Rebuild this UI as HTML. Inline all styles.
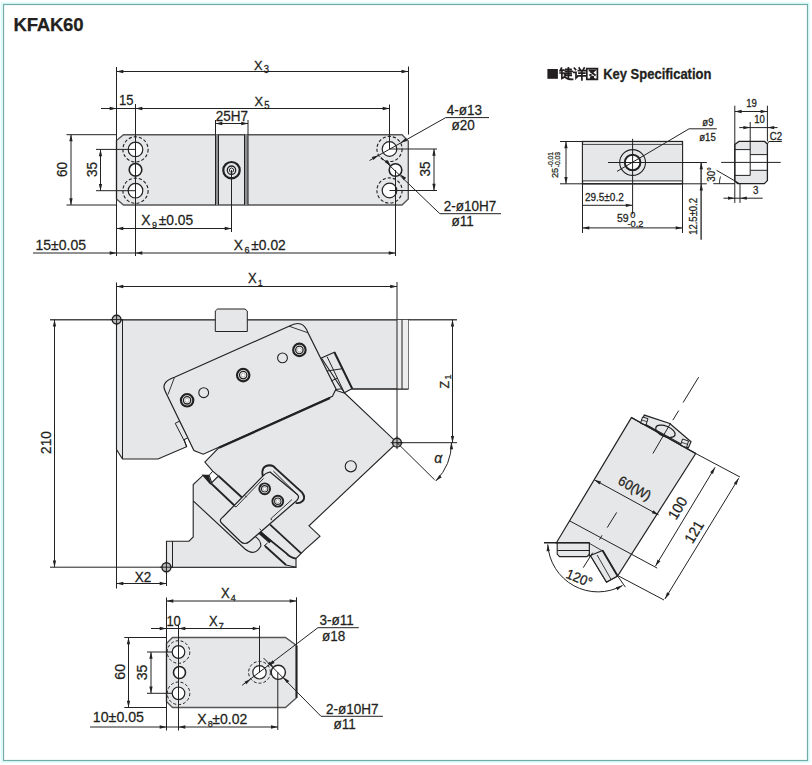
<!DOCTYPE html>
<html><head><meta charset="utf-8"><style>
html,body{margin:0;padding:0;background:#fff;}
svg{display:block;font-family:"Liberation Sans",sans-serif;}
</style></head><body>
<svg width="812" height="765" viewBox="0 0 812 765">
<rect width="812" height="765" fill="#fff"/>
<rect x="1.5" y="3" width="807.5" height="759" fill="none" stroke="#d8fbfb" stroke-width="1.5"/>
<rect x="3.5" y="4.5" width="804" height="756" fill="none" stroke="#72aaa6" stroke-width="1.2"/>
<text x="0" y="0" font-size="18.6" text-anchor="start" font-weight="bold" fill="#231f20" stroke="#231f20" stroke-width="0.25" transform="translate(13.5 30.8) scale(1 1.0)" letter-spacing="-0.25">KFAK60</text>
<polygon points="123.5,134.7 402,134.7 408.3,141 408.3,199 402,205 123.5,205 116.5,199 116.5,140.5" fill="#e6e7e9" stroke="#555555" stroke-width="1.4" stroke-linejoin="miter" />
<rect x="215.5" y="134.5" width="3.2" height="70.5" fill="#8e8f91"/>
<rect x="244.5" y="134.5" width="3.6" height="70.5" fill="#8e8f91"/>
<line x1="215.5" y1="134.5" x2="215.5" y2="205" stroke="#222222" stroke-width="1" />
<line x1="218.5" y1="134.5" x2="218.5" y2="205" stroke="#222222" stroke-width="1" />
<line x1="244.5" y1="134.5" x2="244.5" y2="205" stroke="#222222" stroke-width="1" />
<line x1="248" y1="134.5" x2="248" y2="205" stroke="#222222" stroke-width="1" />
<circle cx="231.5" cy="170.2" r="8.2" fill="#e6e7e9" stroke="#222222" stroke-width="2.2" />
<circle cx="231.5" cy="170.2" r="4.2" fill="none" stroke="#222222" stroke-width="1.3" />
<polygon points="231.5,167.9 233.49,169.05 233.49,171.35 231.5,172.5 229.51,171.35 229.51,169.05" fill="none" stroke="#222222" stroke-width="0.9" stroke-linejoin="miter" />
<circle cx="135.5" cy="149.4" r="7.3" fill="#fff" stroke="#222222" stroke-width="1.2" />
<circle cx="135.5" cy="149.4" r="12.6" fill="none" stroke="#222222" stroke-width="1.1" stroke-dasharray="3.2,2"/>
<circle cx="135.5" cy="190.7" r="7.3" fill="#fff" stroke="#222222" stroke-width="1.2" />
<circle cx="135.5" cy="190.7" r="12.6" fill="none" stroke="#222222" stroke-width="1.1" stroke-dasharray="3.2,2"/>
<circle cx="135.5" cy="169.8" r="6.3" fill="#fff" stroke="#222222" stroke-width="1.6" />
<circle cx="389.5" cy="149" r="7.3" fill="#fff" stroke="#222222" stroke-width="1.2" />
<circle cx="389.5" cy="149" r="12.6" fill="none" stroke="#222222" stroke-width="1.1" stroke-dasharray="3.2,2"/>
<circle cx="389.5" cy="190.5" r="7.3" fill="#fff" stroke="#222222" stroke-width="1.2" />
<circle cx="389.5" cy="190.5" r="12.6" fill="none" stroke="#222222" stroke-width="1.1" stroke-dasharray="3.2,2"/>
<circle cx="395.5" cy="170" r="6.3" fill="#fff" stroke="#222222" stroke-width="1.6" />
<line x1="116.5" y1="67" x2="116.5" y2="256" stroke="#222222" stroke-width="1" />
<line x1="135.5" y1="104" x2="135.5" y2="256" stroke="#222222" stroke-width="1" />
<line x1="408.5" y1="66.5" x2="408.5" y2="134.5" stroke="#222222" stroke-width="1" />
<line x1="389.5" y1="104.5" x2="389.5" y2="149" stroke="#222222" stroke-width="1" />
<line x1="231.5" y1="170" x2="231.5" y2="232" stroke="#222222" stroke-width="1" />
<line x1="395.5" y1="170" x2="395.5" y2="256" stroke="#222222" stroke-width="1" />
<line x1="215.5" y1="120" x2="215.5" y2="134.5" stroke="#222222" stroke-width="1" />
<line x1="248" y1="120" x2="248" y2="134.5" stroke="#222222" stroke-width="1" />
<line x1="66.5" y1="134.7" x2="116.5" y2="134.7" stroke="#222222" stroke-width="1" />
<line x1="66.5" y1="205" x2="116.5" y2="205" stroke="#222222" stroke-width="1" />
<line x1="96" y1="149.4" x2="135.5" y2="149.4" stroke="#222222" stroke-width="1" />
<line x1="96" y1="190.7" x2="135.5" y2="190.7" stroke="#222222" stroke-width="1" />
<line x1="389.5" y1="149" x2="437" y2="149" stroke="#222222" stroke-width="1" />
<line x1="389.5" y1="190.5" x2="437" y2="190.5" stroke="#222222" stroke-width="1" />
<line x1="116.5" y1="71.5" x2="408.3" y2="71.5" stroke="#222222" stroke-width="1" />
<polygon points="116.5,71.5 123.3,69.85 123.3,73.15" fill="#222222"/>
<polygon points="408.3,71.5 401.5,73.15 401.5,69.85" fill="#222222"/>
<text x="0" y="0" font-size="12.8" text-anchor="start" font-weight="normal" fill="#231f20" stroke="#231f20" stroke-width="0.25" transform="translate(254 69.6) scale(1 1.06)" >X<tspan font-size="9.5" dx="1.2" dy="3">3</tspan></text>
<line x1="101" y1="108.5" x2="389.5" y2="108.5" stroke="#222222" stroke-width="1" />
<polygon points="116.5,108.5 109.7,110.15 109.7,106.85" fill="#222222"/>
<polygon points="135.5,108.5 142.3,106.85 142.3,110.15" fill="#222222"/>
<polygon points="389.5,108.5 382.7,110.15 382.7,106.85" fill="#222222"/>
<text x="0" y="0" font-size="13" text-anchor="middle" font-weight="normal" fill="#231f20" stroke="#231f20" stroke-width="0.25" transform="translate(126.3 104.8) scale(1 1.06)" >15</text>
<text x="0" y="0" font-size="12.8" text-anchor="start" font-weight="normal" fill="#231f20" stroke="#231f20" stroke-width="0.25" transform="translate(254.5 106.2) scale(1 1.06)" >X<tspan font-size="9.5" dx="1.2" dy="3">5</tspan></text>
<line x1="215.5" y1="123.5" x2="248" y2="123.5" stroke="#222222" stroke-width="1" />
<polygon points="215.5,123.5 222.3,121.85 222.3,125.15" fill="#222222"/>
<polygon points="248,123.5 241.2,125.15 241.2,121.85" fill="#222222"/>
<text x="0" y="0" font-size="13.5" text-anchor="middle" font-weight="normal" fill="#231f20" stroke="#231f20" stroke-width="0.25" transform="translate(231.8 120.6) scale(1 1.06)" >25H7</text>
<line x1="71" y1="134.5" x2="71" y2="205" stroke="#222222" stroke-width="1" />
<polygon points="71,134.5 72.65,141.3 69.35,141.3" fill="#222222"/>
<polygon points="71,205 69.35,198.2 72.65,198.2" fill="#222222"/>
<text x="0" y="0" font-size="13.5" text-anchor="middle" font-weight="normal" fill="#231f20" stroke="#231f20" stroke-width="0.25" transform="translate(67 169.5) rotate(-90) scale(1 1.06)" >60</text>
<line x1="100.5" y1="149.4" x2="100.5" y2="190.7" stroke="#222222" stroke-width="1" />
<polygon points="100.5,149.4 102.15,156.2 98.85,156.2" fill="#222222"/>
<polygon points="100.5,190.7 98.85,183.9 102.15,183.9" fill="#222222"/>
<text x="0" y="0" font-size="13.5" text-anchor="middle" font-weight="normal" fill="#231f20" stroke="#231f20" stroke-width="0.25" transform="translate(96.5 169.5) rotate(-90) scale(1 1.06)" >35</text>
<line x1="434" y1="149" x2="434" y2="190.5" stroke="#222222" stroke-width="1" />
<polygon points="434,149 435.65,155.8 432.35,155.8" fill="#222222"/>
<polygon points="434,190.5 432.35,183.7 435.65,183.7" fill="#222222"/>
<text x="0" y="0" font-size="13.5" text-anchor="middle" font-weight="normal" fill="#231f20" stroke="#231f20" stroke-width="0.25" transform="translate(430 169) rotate(-90) scale(1 1.06)" >35</text>
<line x1="116.5" y1="228.5" x2="231.5" y2="228.5" stroke="#222222" stroke-width="1" />
<polygon points="116.5,228.5 123.3,226.85 123.3,230.15" fill="#222222"/>
<polygon points="231.5,228.5 224.7,230.15 224.7,226.85" fill="#222222"/>
<text x="0" y="0" font-size="13.8" text-anchor="start" font-weight="normal" fill="#231f20" stroke="#231f20" stroke-width="0.25" transform="translate(141.2 225) scale(1 1.06)" >X<tspan font-size="9" dx="1.5" dy="3">9</tspan><tspan dy="-3" dx="1.8">±0.05</tspan></text>
<line x1="33" y1="253" x2="395.5" y2="253" stroke="#222222" stroke-width="1" />
<polygon points="116.5,253 109.7,254.65 109.7,251.35" fill="#222222"/>
<polygon points="135.5,253 142.3,251.35 142.3,254.65" fill="#222222"/>
<polygon points="395.5,253 388.7,254.65 388.7,251.35" fill="#222222"/>
<text x="0" y="0" font-size="14" text-anchor="start" font-weight="normal" fill="#231f20" stroke="#231f20" stroke-width="0.25" transform="translate(35.5 249.7) scale(1 1.06)" >15±0.05</text>
<text x="0" y="0" font-size="13.8" text-anchor="start" font-weight="normal" fill="#231f20" stroke="#231f20" stroke-width="0.25" transform="translate(233.8 250.2) scale(1 1.06)" >X<tspan font-size="9" dx="1.5" dy="3">6</tspan><tspan dy="-3" dx="1.8">±0.02</tspan></text>
<polyline points="369.5,160.5 445.7,117.6 489,117.6" fill="none" stroke="#222222" stroke-width="1" stroke-linejoin="miter" />
<polygon points="378.53,155.17 373.41,159.95 371.79,157.07" fill="#222222"/>
<polygon points="400.47,142.83 405.59,138.05 407.21,140.93" fill="#222222"/>
<text x="0" y="0" font-size="13.5" text-anchor="start" font-weight="normal" fill="#231f20" stroke="#231f20" stroke-width="0.25" transform="translate(446.7 114.6) scale(1 1.06)" >4-ø13</text>
<text x="0" y="0" font-size="13.5" text-anchor="start" font-weight="normal" fill="#231f20" stroke="#231f20" stroke-width="0.25" transform="translate(451.6 130.4) scale(1 1.06)" >ø20</text>
<polyline points="380.7,157 439.8,213.7 501,213.7" fill="none" stroke="#222222" stroke-width="1" stroke-linejoin="miter" />
<polygon points="390.95,165.64 384.9,162.13 387.18,159.74" fill="#222222"/>
<polygon points="400.05,174.36 406.1,177.87 403.82,180.26" fill="#222222"/>
<text x="0" y="0" font-size="13.5" text-anchor="start" font-weight="normal" fill="#231f20" stroke="#231f20" stroke-width="0.25" transform="translate(443.7 210.6) scale(1 1.06)" >2-ø10H7</text>
<text x="0" y="0" font-size="13.5" text-anchor="start" font-weight="normal" fill="#231f20" stroke="#231f20" stroke-width="0.25" transform="translate(451.6 226) scale(1 1.06)" >ø11</text>
<line x1="116.5" y1="282.5" x2="116.5" y2="588.5" stroke="#222222" stroke-width="1" />
<line x1="50" y1="319.7" x2="457" y2="319.7" stroke="#4a4a4a" stroke-width="1.4" />
<line x1="397" y1="282" x2="397" y2="442.7" stroke="#222222" stroke-width="1" />
<line x1="50" y1="567.2" x2="296.5" y2="567.2" stroke="#222222" stroke-width="1" />
<line x1="166.5" y1="541" x2="166.5" y2="586" stroke="#222222" stroke-width="1" />
<polygon points="116.5,319.7 408.2,319.7 408.2,389 340,389 240,400 200,420 188.2,437.3 184,439.3 186.6,446.7 158,459 122.5,459 116.5,449.5" fill="#e6e7e9" stroke="#222222" stroke-width="1.1" stroke-linejoin="miter" />
<line x1="116.5" y1="319.7" x2="408.2" y2="319.7" stroke="#505050" stroke-width="1.5" />
<line x1="122.5" y1="319.5" x2="122.5" y2="459" stroke="#222222" stroke-width="1" />
<rect x="397" y="320" width="11.2" height="69" fill="#ededee"/>
<line x1="402" y1="319.5" x2="402" y2="389" stroke="#222222" stroke-width="1" />
<line x1="397" y1="319.5" x2="397" y2="389" stroke="#222222" stroke-width="1" />
<polygon points="204.8,462.1 240,426 320,400 335,390 344.9,393.3 397,442.7 309,525.8 320,536.2 304.9,549.7 296,558.6 296,567.2 166.5,567.2 166.5,541.2 189,541.2 193.2,537 193.2,484.5 203.2,475.2 209.1,475.4 211.7,482.7 218.5,476 212.7,471.2" fill="#e6e7e9" stroke="#222222" stroke-width="1.1" stroke-linejoin="miter" />
<line x1="172.5" y1="541.2" x2="172.5" y2="567.2" stroke="#222222" stroke-width="1" />
<polygon points="203.2,475.4 207.9,475.8 210.7,484" fill="#222222" stroke="#222222" stroke-width="1.4" stroke-linejoin="miter" />
<line x1="218.5" y1="476" x2="242" y2="497.5" stroke="#222222" stroke-width="1.8" />
<line x1="211.2" y1="483.5" x2="236" y2="507" stroke="#222222" stroke-width="1.8" />
<line x1="212.7" y1="471.2" x2="209.1" y2="475.4" stroke="#222222" stroke-width="1" />
<path d="M193.2,500.9 L245,549 Q254.6,557 260.9,546 Q261,540 254.6,536.1 L271,521.7" fill="none" stroke="#222222" stroke-width="1.1" />
<path d="M258.3,530.5 L286.4,553.4 Q290,557.5 296,558.6" fill="none" stroke="#222222" stroke-width="1.8" />
<line x1="258" y1="530.8" x2="270.5" y2="542" stroke="#222222" stroke-width="3.6" />
<line x1="264" y1="546" x2="267.5" y2="543" stroke="#222222" stroke-width="1" />
<line x1="265" y1="546" x2="286" y2="565" stroke="#222222" stroke-width="1.8" />
<line x1="270.1" y1="524.6" x2="301.2" y2="553.4" stroke="#222222" stroke-width="1.8" />
<line x1="286" y1="565" x2="296" y2="567.2" stroke="#222222" stroke-width="1" />
<circle cx="350.8" cy="466.3" r="5.6" fill="#e6e7e9" stroke="#222222" stroke-width="1.1" />
<path d="M223,517 L262.8,476.1 Q265,473.2 270,472 L297.6,494.8 Q300,497.5 296.5,500.8 L249.5,541.5 Q244.8,545.5 240.5,541.5 L221.5,523 Q218.5,520 223,517 Z" fill="#e6e7e9" stroke="#222222" stroke-width="1.2" />
<path d="M262.8,476.1 Q260.5,466 269.7,465.3 Q273.5,465.5 275.9,468.7 L302,492.3 Q306,497.5 302.6,501 Q299.5,504 295.7,502.8" fill="none" stroke="#222222" stroke-width="1.9" />
<line x1="273.4" y1="471.1" x2="297.6" y2="494.8" stroke="#222222" stroke-width="1.0" />
<line x1="236" y1="507" x2="263.5" y2="478.5" stroke="#222222" stroke-width="0.9" />
<line x1="233.6" y1="505.3" x2="236" y2="507" stroke="#222222" stroke-width="1" />
<line x1="244.8" y1="495.4" x2="246.6" y2="497.3" stroke="#222222" stroke-width="1" />
<line x1="270.7" y1="518.8" x2="292" y2="499.5" stroke="#222222" stroke-width="0.9" />
<line x1="272.1" y1="520.2" x2="270.7" y2="518.8" stroke="#222222" stroke-width="1" />
<line x1="261" y1="530.2" x2="259.6" y2="528.8" stroke="#222222" stroke-width="1" />
<circle cx="264.7" cy="488.8" r="5.4" fill="#f4f4f4" stroke="#222222" stroke-width="1.9" />
<circle cx="264.7" cy="488.8" r="3.2" fill="#fff" stroke="#222222" stroke-width="1.1" />
<circle cx="264.7" cy="488.8" r="1.7" fill="#fff" stroke="#888" stroke-width="0.6" />
<circle cx="277.8" cy="501.2" r="5.4" fill="#f4f4f4" stroke="#222222" stroke-width="1.9" />
<circle cx="277.8" cy="501.2" r="3.2" fill="#fff" stroke="#222222" stroke-width="1.1" />
<circle cx="277.8" cy="501.2" r="1.7" fill="#fff" stroke="#888" stroke-width="0.6" />
<path d="M165.1,390.9 Q160.5,382 174.5,377.3 L289,326.2 Q303,318.5 308,332.8 L336,389.1 L332.4,396.4 L203.2,454.2 L193.9,450.6 Z" fill="#e6e7e9" stroke="#222222" stroke-width="1.2" />
<line x1="174.5" y1="377.3" x2="168" y2="394.5" stroke="#222222" stroke-width="0.9" />
<line x1="289" y1="326.2" x2="308" y2="332.8" stroke="#222222" stroke-width="0.9" />
<line x1="219" y1="447.8" x2="330" y2="398" stroke="#222222" stroke-width="2.2" />
<circle cx="187.1" cy="400.3" r="6.2" fill="#f4f4f4" stroke="#222222" stroke-width="2.2" />
<circle cx="187.1" cy="400.3" r="3.7" fill="#fff" stroke="#222222" stroke-width="1.3" />
<circle cx="187.1" cy="400.3" r="2" fill="#fff" stroke="#888" stroke-width="0.6" />
<circle cx="243.2" cy="375.1" r="6.2" fill="#f4f4f4" stroke="#222222" stroke-width="2.2" />
<circle cx="243.2" cy="375.1" r="3.7" fill="#fff" stroke="#222222" stroke-width="1.3" />
<circle cx="243.2" cy="375.1" r="2" fill="#fff" stroke="#888" stroke-width="0.6" />
<circle cx="299.4" cy="349.9" r="6.2" fill="#f4f4f4" stroke="#222222" stroke-width="2.2" />
<circle cx="299.4" cy="349.9" r="3.7" fill="#fff" stroke="#222222" stroke-width="1.3" />
<circle cx="299.4" cy="349.9" r="2" fill="#fff" stroke="#888" stroke-width="0.6" />
<circle cx="203.7" cy="392.7" r="4.9" fill="#e6e7e9" stroke="#222222" stroke-width="1.1" />
<circle cx="282.5" cy="357.9" r="4.9" fill="#e6e7e9" stroke="#222222" stroke-width="1.1" />
<polygon points="175.2,423.3 179.5,421.2 187.7,437.7 183.8,439.9" fill="#e6e7e9" stroke="#222222" stroke-width="1" stroke-linejoin="miter" />
<line x1="186.7" y1="446.3" x2="183.8" y2="439.9" stroke="#222222" stroke-width="1" />
<polygon points="321.4,358 334.4,352.2 352.2,388.6 344.4,392.7" fill="#e6e7e9" stroke="#222222" stroke-width="1.1" stroke-linejoin="miter" />
<line x1="327.1" y1="356.7" x2="344.4" y2="392.7" stroke="#222222" stroke-width="1" />
<line x1="334.4" y1="352.2" x2="352.2" y2="388.6" stroke="#222222" stroke-width="2" />
<line x1="327" y1="371" x2="342.3" y2="368.7" stroke="#222222" stroke-width="1" />
<line x1="331" y1="381" x2="338" y2="378" stroke="#222222" stroke-width="1" />
<line x1="352.2" y1="389" x2="408.2" y2="389" stroke="#222222" stroke-width="1" />
<path d="M215.3,331.5 L215.3,311 L217.5,309 L245,309 L247.3,311 L247.3,331.5 Z" fill="#e6e7e9" stroke="#222222" stroke-width="1" />
<circle cx="116.6" cy="319.6" r="4.4" fill="#bdbdbd" stroke="#222222" stroke-width="1.4" />
<line x1="110.2" y1="319.6" x2="123" y2="319.6" stroke="#222222" stroke-width="1" />
<line x1="116.6" y1="313.2" x2="116.6" y2="326" stroke="#222222" stroke-width="1" />
<circle cx="397" cy="442.7" r="4.4" fill="#bdbdbd" stroke="#222222" stroke-width="1.4" />
<line x1="390.6" y1="442.7" x2="403.4" y2="442.7" stroke="#222222" stroke-width="1" />
<line x1="397" y1="436.3" x2="397" y2="449.1" stroke="#222222" stroke-width="1" />
<circle cx="166.4" cy="567.2" r="4.5" fill="#bdbdbd" stroke="#222222" stroke-width="1.4" />
<line x1="159.9" y1="567.2" x2="172.9" y2="567.2" stroke="#222222" stroke-width="1" />
<line x1="166.4" y1="560.7" x2="166.4" y2="573.7" stroke="#222222" stroke-width="1" />
<line x1="397" y1="442.7" x2="457" y2="442.7" stroke="#222222" stroke-width="1" />
<line x1="397" y1="442.7" x2="434.6" y2="479.8" stroke="#222222" stroke-width="1" />
<line x1="116.5" y1="286.5" x2="397" y2="286.5" stroke="#222222" stroke-width="1" />
<polygon points="116.5,286.5 123.3,284.85 123.3,288.15" fill="#222222"/>
<polygon points="397,286.5 390.2,288.15 390.2,284.85" fill="#222222"/>
<text x="0" y="0" font-size="13" text-anchor="start" font-weight="normal" fill="#231f20" stroke="#231f20" stroke-width="0.25" transform="translate(247.9 282.7) scale(1 1.06)" >X<tspan font-size="9" dx="1.2" dy="3">1</tspan></text>
<line x1="54.5" y1="319.7" x2="54.5" y2="567.2" stroke="#222222" stroke-width="1" />
<polygon points="54.5,319.7 56.15,326.5 52.85,326.5" fill="#222222"/>
<polygon points="54.5,567.2 52.85,560.4 56.15,560.4" fill="#222222"/>
<text x="0" y="0" font-size="13.6" text-anchor="middle" font-weight="normal" fill="#231f20" stroke="#231f20" stroke-width="0.25" transform="translate(50.8 442.6) rotate(-90) scale(1 1.06)" >210</text>
<line x1="452.5" y1="319.7" x2="452.5" y2="442.7" stroke="#222222" stroke-width="1" />
<polygon points="452.5,319.7 454.15,326.5 450.85,326.5" fill="#222222"/>
<polygon points="452.5,442.7 450.85,435.9 454.15,435.9" fill="#222222"/>
<text x="0" y="0" font-size="12.5" text-anchor="middle" font-weight="normal" fill="#231f20" stroke="#231f20" stroke-width="0.25" transform="translate(449.3 381.5) rotate(-90) scale(1 1.06)" >Z<tspan font-size="9" dx="1.2" dy="2">1</tspan></text>
<line x1="116.5" y1="583.5" x2="166.5" y2="583.5" stroke="#222222" stroke-width="1" />
<polygon points="116.5,583.5 123.3,581.85 123.3,585.15" fill="#222222"/>
<polygon points="166.5,583.5 159.7,585.15 159.7,581.85" fill="#222222"/>
<text x="0" y="0" font-size="13.5" text-anchor="middle" font-weight="normal" fill="#231f20" stroke="#231f20" stroke-width="0.25" transform="translate(143 581.5) scale(1 1.06)" >X2</text>
<path d="M451.5,442.5 A55,55 0 0 1 435.8,480.98" fill="none" stroke="#222222" stroke-width="1" />
<polygon points="451.5,442.5 453.15,449.3 449.85,449.3" fill="#222222"/>
<polygon points="435.8,480.98 439.37,474.97 441.73,477.28" fill="#222222"/>
<text x="0" y="0" font-size="14" text-anchor="middle" font-weight="normal" fill="#231f20" stroke="#231f20" stroke-width="0.25" transform="translate(438.2 463) scale(1 1.06)" font-style="italic">α</text>
<line x1="166.5" y1="601" x2="296.5" y2="601" stroke="#222222" stroke-width="1" />
<polygon points="166.5,601 173.3,599.35 173.3,602.65" fill="#222222"/>
<polygon points="296.5,601 289.7,602.65 289.7,599.35" fill="#222222"/>
<text x="0" y="0" font-size="13" text-anchor="start" font-weight="normal" fill="#231f20" stroke="#231f20" stroke-width="0.25" transform="translate(221 597.7) scale(1 1.06)" >X<tspan font-size="9" dx="1.2" dy="3">4</tspan></text>
<line x1="296.5" y1="597.3" x2="296.5" y2="645" stroke="#222222" stroke-width="1" />
<line x1="151" y1="628.5" x2="259.5" y2="628.5" stroke="#222222" stroke-width="1" />
<polygon points="166.5,628.5 159.7,630.15 159.7,626.85" fill="#222222"/>
<polygon points="178.5,628.5 185.3,626.85 185.3,630.15" fill="#222222"/>
<polygon points="259.5,628.5 252.7,630.15 252.7,626.85" fill="#222222"/>
<text x="0" y="0" font-size="13" text-anchor="middle" font-weight="normal" fill="#231f20" stroke="#231f20" stroke-width="0.25" transform="translate(173.6 625.5) scale(1 1.06)" >10</text>
<text x="0" y="0" font-size="13" text-anchor="start" font-weight="normal" fill="#231f20" stroke="#231f20" stroke-width="0.25" transform="translate(209 625.5) scale(1 1.06)" >X<tspan font-size="9" dx="1.2" dy="3">7</tspan></text>
<polygon points="172.5,637.5 285.5,637.5 296.5,645.5 296.5,697.8 285.5,707.5 172.5,707.5 166.5,701.5 166.5,643.5" fill="#e6e7e9" stroke="#555555" stroke-width="1.4" stroke-linejoin="miter" />
<line x1="296.5" y1="645.5" x2="296.5" y2="697.8" stroke="#222222" stroke-width="2" />
<line x1="166.5" y1="597.5" x2="166.5" y2="730.5" stroke="#222222" stroke-width="1" />
<line x1="124.3" y1="637.5" x2="166.5" y2="637.5" stroke="#222222" stroke-width="1" />
<line x1="124.3" y1="707.5" x2="166.5" y2="707.5" stroke="#222222" stroke-width="1" />
<line x1="128.5" y1="637.5" x2="128.5" y2="707.5" stroke="#222222" stroke-width="1" />
<polygon points="128.5,637.5 130.15,644.3 126.85,644.3" fill="#222222"/>
<polygon points="128.5,707.5 126.85,700.7 130.15,700.7" fill="#222222"/>
<text x="0" y="0" font-size="14.2" text-anchor="middle" font-weight="normal" fill="#231f20" stroke="#231f20" stroke-width="0.25" transform="translate(125 671.8) rotate(-90) scale(1 1.06)" >60</text>
<line x1="151" y1="652" x2="151" y2="693.3" stroke="#222222" stroke-width="1" />
<polygon points="151,652 152.65,658.8 149.35,658.8" fill="#222222"/>
<polygon points="151,693.3 149.35,686.5 152.65,686.5" fill="#222222"/>
<text x="0" y="0" font-size="14" text-anchor="middle" font-weight="normal" fill="#231f20" stroke="#231f20" stroke-width="0.25" transform="translate(146.7 672.5) rotate(-90) scale(1 1.06)" >35</text>
<line x1="147" y1="652" x2="178.5" y2="652" stroke="#222222" stroke-width="1" />
<line x1="147" y1="693.3" x2="178.5" y2="693.3" stroke="#222222" stroke-width="1" />
<circle cx="178.5" cy="652" r="6.3" fill="#fff" stroke="#222222" stroke-width="1.2" />
<circle cx="178.5" cy="652" r="11.3" fill="none" stroke="#222222" stroke-width="1" stroke-dasharray="3,2"/>
<circle cx="178.5" cy="693.3" r="6.3" fill="#fff" stroke="#222222" stroke-width="1.2" />
<circle cx="178.5" cy="693.3" r="11.3" fill="none" stroke="#222222" stroke-width="1" stroke-dasharray="3,2"/>
<circle cx="179.5" cy="672.5" r="6" fill="#fff" stroke="#222222" stroke-width="1.6" />
<circle cx="259.5" cy="672.3" r="6.7" fill="#fff" stroke="#222222" stroke-width="1.2" />
<circle cx="259.5" cy="672.3" r="10.9" fill="none" stroke="#222222" stroke-width="1" stroke-dasharray="3,2"/>
<circle cx="278.3" cy="672.3" r="7.1" fill="#fff" stroke="#222222" stroke-width="1.4" />
<line x1="178.5" y1="625" x2="178.5" y2="730.5" stroke="#222222" stroke-width="1" />
<line x1="259.5" y1="625.6" x2="259.5" y2="672.3" stroke="#222222" stroke-width="1" />
<line x1="277.8" y1="672.3" x2="277.8" y2="730" stroke="#222222" stroke-width="1" />
<line x1="90" y1="727" x2="277.8" y2="727" stroke="#222222" stroke-width="1" />
<polygon points="166.5,727 159.7,728.65 159.7,725.35" fill="#222222"/>
<polygon points="178.5,727 185.3,725.35 185.3,728.65" fill="#222222"/>
<polygon points="277.8,727 271,728.65 271,725.35" fill="#222222"/>
<text x="0" y="0" font-size="14.2" text-anchor="start" font-weight="normal" fill="#231f20" stroke="#231f20" stroke-width="0.25" transform="translate(92.8 722) scale(1 1.06)" >10±0.05</text>
<text x="0" y="0" font-size="14" text-anchor="start" font-weight="normal" fill="#231f20" stroke="#231f20" stroke-width="0.25" transform="translate(197.3 723.7) scale(1 1.06)" >X<tspan font-size="9" dx="1.2" dy="3">8</tspan><tspan dy="-3" dx="-0.5">±0.02</tspan></text>
<polyline points="242.1,685.3 317.9,627.7 358.8,627.7" fill="none" stroke="#222222" stroke-width="1" stroke-linejoin="miter" />
<text x="0" y="0" font-size="13.5" text-anchor="start" font-weight="normal" fill="#231f20" stroke="#231f20" stroke-width="0.25" transform="translate(319.6 624.5) scale(1 1.06)" >3-ø11</text>
<text x="0" y="0" font-size="13.5" text-anchor="start" font-weight="normal" fill="#231f20" stroke="#231f20" stroke-width="0.25" transform="translate(322 641.3) scale(1 1.06)" >ø18</text>
<polyline points="263.5,658 321,716.3 382.9,716.3" fill="none" stroke="#222222" stroke-width="1" stroke-linejoin="miter" />
<text x="0" y="0" font-size="13.5" text-anchor="start" font-weight="normal" fill="#231f20" stroke="#231f20" stroke-width="0.25" transform="translate(325.9 713.8) scale(1 1.06)" >2-ø10H7</text>
<text x="0" y="0" font-size="13.5" text-anchor="start" font-weight="normal" fill="#231f20" stroke="#231f20" stroke-width="0.25" transform="translate(333.6 729.2) scale(1 1.06)" >ø11</text>
<polygon points="250.82,678.89 246.41,684.32 244.41,681.7" fill="#222222"/>
<polygon points="268.18,665.71 272.59,660.28 274.59,662.9" fill="#222222"/>
<polygon points="273.66,667.39 267.71,663.7 270.06,661.39" fill="#222222"/>
<polygon points="283.34,677.21 289.29,680.9 286.94,683.21" fill="#222222"/>
<rect x="547.4" y="69" width="10.5" height="9.8" fill="#231f20"/>
<text x="0" y="0" font-size="13" text-anchor="start" font-weight="bold" fill="#231f20" stroke="#231f20" stroke-width="0.25" transform="translate(603.2 78.8) scale(1 1.06)" >Key Specification</text>
<path d="M1.6,0.3 L0.2,3 M1,2.3 L4,2.3 M0.3,5.2 L4,5.2 M2.1,2.3 L2.1,10.6 L4,9.6 M6,1.6 L11.2,1.6 M5.6,3.6 L12.4,3.6 M6,5.6 L11.2,5.6 M5.8,7.6 L11.4,7.6 M8.6,0 L8.6,9.4 M4.6,6 L5.8,6 L4.8,9 M4.6,8.4 Q6.5,11.6 12.8,11.6" transform="translate(559.8 67.8) scale(1.0)" fill="none" stroke="#231f20" stroke-width="1.7" stroke-linecap="square"/>
<path d="M0.8,0.4 L2,1.8 M0.2,4.6 L2.4,4.6 L2.4,10.2 L3.8,8.8 M5.6,0.2 L6.6,1.8 M10.6,0.2 L9.6,1.8 M4.8,2.8 L11.8,2.8 M5.4,5.4 L11.2,5.4 M4.4,8 L12.2,8 M8.3,2.8 L8.3,12" transform="translate(573.6 67.8) scale(1.0)" fill="none" stroke="#231f20" stroke-width="1.7" stroke-linecap="square"/>
<path d="M0.6,0.6 L11.2,0.6 L11.2,11.4 L0.6,11.4 Z M3.4,2.6 L8.4,2.6 L3.8,7 M4.8,4 L8.8,7 M5.2,8.2 L7,8.8 M4.6,9.8 L7.6,10.6" transform="translate(586.2 68) scale(1.0)" fill="none" stroke="#231f20" stroke-width="1.7" stroke-linecap="square"/>
<rect x="582.5" y="141.5" width="100" height="42.3" fill="#fff" stroke="#222222" stroke-width="1.3"/>
<rect x="582.5" y="144.3" width="100" height="36.6" fill="#e6e7e9" stroke="#222222" stroke-width="0.9"/>
<circle cx="632.6" cy="162.5" r="12.9" fill="#e6e7e9" stroke="#222222" stroke-width="1.1" />
<circle cx="632.6" cy="162.5" r="7.8" fill="#fff" stroke="#222222" stroke-width="2" />
<line x1="608" y1="162.5" x2="706.8" y2="162.5" stroke="#222222" stroke-width="1" />
<line x1="632.6" y1="138.8" x2="632.6" y2="214.2" stroke="#222222" stroke-width="1" />
<polyline points="617,171.4 689.1,128.8 716.8,128.8" fill="none" stroke="#222222" stroke-width="1" stroke-linejoin="miter" />
<text x="0" y="0" font-size="9.6" text-anchor="start" font-weight="normal" fill="#231f20" stroke="#231f20" stroke-width="0.25" transform="translate(702.3 125.6) scale(1 1.06)" >ø9</text>
<text x="0" y="0" font-size="9.6" text-anchor="start" font-weight="normal" fill="#231f20" stroke="#231f20" stroke-width="0.25" transform="translate(699.2 140.6) scale(1 1.06)" >ø15</text>
<line x1="560" y1="141.5" x2="582.5" y2="141.5" stroke="#222222" stroke-width="1" />
<line x1="560" y1="183.8" x2="706.8" y2="183.8" stroke="#222222" stroke-width="1" />
<line x1="566" y1="141.5" x2="566" y2="183.8" stroke="#222222" stroke-width="1" />
<polygon points="566,141.5 567.65,148.3 564.35,148.3" fill="#222222"/>
<polygon points="566,183.8 564.35,177 567.65,177" fill="#222222"/>
<text x="0" y="0" font-size="9.2" text-anchor="middle" font-weight="normal" fill="#231f20" stroke="#231f20" stroke-width="0.25" transform="translate(557.8 173) rotate(-90) scale(1 1.06)" >25</text>
<text x="0" y="0" font-size="6.8" text-anchor="middle" font-weight="normal" fill="#231f20" stroke="#231f20" stroke-width="0.25" transform="translate(553.4 159.6) rotate(-90) scale(1 1.06)" >-0.01</text>
<text x="0" y="0" font-size="6.8" text-anchor="middle" font-weight="normal" fill="#231f20" stroke="#231f20" stroke-width="0.25" transform="translate(560.4 159.6) rotate(-90) scale(1 1.06)" >-0.03</text>
<line x1="582.5" y1="183.8" x2="582.5" y2="233" stroke="#222222" stroke-width="1" />
<line x1="682.5" y1="183.8" x2="682.5" y2="233" stroke="#222222" stroke-width="1" />
<line x1="582.5" y1="205.3" x2="632.6" y2="205.3" stroke="#222222" stroke-width="1" />
<polygon points="632.6,205.3 625.8,206.95 625.8,203.65" fill="#222222"/>
<text x="0" y="0" font-size="10" text-anchor="start" font-weight="normal" fill="#231f20" stroke="#231f20" stroke-width="0.25" transform="translate(584.9 200.9) scale(1 1.06)" >29.5±0.2</text>
<line x1="582.5" y1="227.9" x2="682.5" y2="227.9" stroke="#222222" stroke-width="1" />
<polygon points="582.5,227.9 589.3,226.25 589.3,229.55" fill="#222222"/>
<polygon points="682.5,227.9 675.7,229.55 675.7,226.25" fill="#222222"/>
<text x="0" y="0" font-size="10.5" text-anchor="start" font-weight="normal" fill="#231f20" stroke="#231f20" stroke-width="0.25" transform="translate(617 221.9) scale(1 1.06)" >59</text>
<text x="0" y="0" font-size="9.3" text-anchor="start" font-weight="normal" fill="#231f20" stroke="#231f20" stroke-width="0.25" transform="translate(630.3 217.5) scale(1 1.06)" >0</text>
<text x="0" y="0" font-size="9.3" text-anchor="start" font-weight="normal" fill="#231f20" stroke="#231f20" stroke-width="0.25" transform="translate(627.5 226.8) scale(1 1.06)" >-0.2</text>
<line x1="701.1" y1="162.5" x2="701.1" y2="239.7" stroke="#222222" stroke-width="1.3" />
<polygon points="701.3,162.5 702.95,169.3 699.65,169.3" fill="#222222"/>
<polygon points="701.3,183.8 702.95,190.6 699.65,190.6" fill="#222222"/>
<text x="0" y="0" font-size="9.5" text-anchor="middle" font-weight="normal" fill="#231f20" stroke="#231f20" stroke-width="0.25" transform="translate(697 216.4) rotate(-90) scale(1 1.06)" >12.5±0.2</text>
<polygon points="738.9,141.4 764.6,141.4 767.4,144 767.4,180.6 764.3,183.7 737.6,183.7 734.8,180.9 734.8,144.5" fill="#e6e7e9" stroke="none" stroke-width="0" stroke-linejoin="miter" />
<rect x="734.8" y="149.6" width="15.4" height="25.8" fill="#fff"/>
<rect x="750.2" y="154.6" width="17.2" height="15.7" fill="#fff"/>
<polygon points="738.9,141.4 764.6,141.4 767.4,144 767.4,180.6 764.3,183.7 737.6,183.7 734.8,180.9 734.8,144.5" fill="none" stroke="#222222" stroke-width="1.3" stroke-linejoin="miter" />
<line x1="734.8" y1="149.6" x2="750.2" y2="149.6" stroke="#222222" stroke-width="1" />
<line x1="734.8" y1="175.4" x2="750.2" y2="175.4" stroke="#222222" stroke-width="1" />
<line x1="750.2" y1="154.6" x2="767.4" y2="154.6" stroke="#222222" stroke-width="1" />
<line x1="750.2" y1="170.3" x2="767.4" y2="170.3" stroke="#222222" stroke-width="1" />
<line x1="750.2" y1="122" x2="750.2" y2="175.4" stroke="#222222" stroke-width="1" />
<line x1="734.8" y1="105.7" x2="734.8" y2="202.9" stroke="#222222" stroke-width="1" />
<line x1="767.4" y1="105.7" x2="767.4" y2="141.4" stroke="#222222" stroke-width="1" />
<line x1="734.8" y1="111.5" x2="767.4" y2="111.5" stroke="#222222" stroke-width="1" />
<polygon points="734.8,111.5 741.6,109.85 741.6,113.15" fill="#222222"/>
<polygon points="767.4,111.5 760.6,113.15 760.6,109.85" fill="#222222"/>
<text x="0" y="0" font-size="9.6" text-anchor="middle" font-weight="normal" fill="#231f20" stroke="#231f20" stroke-width="0.25" transform="translate(751.5 107.4) scale(1 1.06)" >19</text>
<line x1="739.2" y1="127.6" x2="777.6" y2="127.6" stroke="#222222" stroke-width="1" />
<polygon points="750.2,127.6 743.4,129.25 743.4,125.95" fill="#222222"/>
<polygon points="767.4,127.6 774.2,125.95 774.2,129.25" fill="#222222"/>
<text x="0" y="0" font-size="9.6" text-anchor="middle" font-weight="normal" fill="#231f20" stroke="#231f20" stroke-width="0.25" transform="translate(759.5 123.1) scale(1 1.06)" >10</text>
<text x="0" y="0" font-size="9.6" text-anchor="start" font-weight="normal" fill="#231f20" stroke="#231f20" stroke-width="0.25" transform="translate(769.8 139.9) scale(1 1.06)" >C2</text>
<line x1="768.8" y1="141.5" x2="781.8" y2="141.5" stroke="#222222" stroke-width="1" />
<line x1="767.4" y1="144" x2="768.8" y2="141.5" stroke="#222222" stroke-width="1" />
<line x1="721.2" y1="162.4" x2="780.7" y2="162.4" stroke="#222222" stroke-width="1" />
<line x1="713.3" y1="183.7" x2="734.8" y2="183.7" stroke="#222222" stroke-width="1" />
<line x1="716.5" y1="170.3" x2="739.4" y2="183.5" stroke="#222222" stroke-width="1" />
<path d="M719.5,183.7 A19,19 0 0 1 720.5,176.5" fill="none" stroke="#222222" stroke-width="0.9" />
<text x="0" y="0" font-size="9.8" text-anchor="middle" font-weight="normal" fill="#231f20" stroke="#231f20" stroke-width="0.25" transform="translate(715.3 174.4) rotate(-90) scale(1 1.06)" >30°</text>
<line x1="740" y1="183.7" x2="740" y2="202.9" stroke="#222222" stroke-width="1" />
<line x1="723.5" y1="198.2" x2="762.7" y2="198.2" stroke="#222222" stroke-width="1" />
<polygon points="734.8,198.2 728,199.85 728,196.55" fill="#222222"/>
<polygon points="740,198.2 746.8,196.55 746.8,199.85" fill="#222222"/>
<text x="0" y="0" font-size="9.8" text-anchor="middle" font-weight="normal" fill="#231f20" stroke="#231f20" stroke-width="0.25" transform="translate(755.8 193.8) scale(1 1.06)" >3</text>
<polygon points="631.4,417.6 695.7,453.5 617.6,576 606.5,582.1 590.4,555.5 589.3,556 589.3,542.8 556.4,542.8" fill="#e6e7e9" stroke="#222222" stroke-width="1.2" stroke-linejoin="miter" />
<line x1="569.3" y1="520.7" x2="657.2" y2="568.1" stroke="#222222" stroke-width="1" />
<line x1="695.7" y1="453.5" x2="740" y2="477" stroke="#222222" stroke-width="1" />
<line x1="618.4" y1="575.9" x2="664" y2="600" stroke="#222222" stroke-width="1" />
<line x1="594.3" y1="479.8" x2="658.6" y2="515" stroke="#222222" stroke-width="1" />
<polygon points="594.3,479.8 601.06,481.62 599.47,484.51" fill="#222222"/>
<polygon points="658.6,515 651.84,513.18 653.43,510.29" fill="#222222"/>
<text x="0" y="0" font-size="13" text-anchor="middle" font-weight="normal" fill="#231f20" stroke="#231f20" stroke-width="0.25" transform="translate(632.5 492.3) rotate(29.5) scale(1 1.06)" >60(W)</text>
<line x1="715.1" y1="467.3" x2="655.5" y2="566.1" stroke="#222222" stroke-width="1" />
<polygon points="715.1,467.3 713,473.97 710.17,472.27" fill="#222222"/>
<polygon points="655.5,566.1 657.6,559.43 660.43,561.13" fill="#222222"/>
<text x="0" y="0" font-size="14" text-anchor="middle" font-weight="normal" fill="#231f20" stroke="#231f20" stroke-width="0.25" transform="translate(682 510.8) rotate(-59) scale(1 1.06)" >100</text>
<line x1="738.7" y1="478.3" x2="664.9" y2="599" stroke="#222222" stroke-width="1" />
<polygon points="738.7,478.3 736.56,484.96 733.75,483.24" fill="#222222"/>
<polygon points="664.9,599 667.04,592.34 669.85,594.06" fill="#222222"/>
<text x="0" y="0" font-size="14" text-anchor="middle" font-weight="normal" fill="#231f20" stroke="#231f20" stroke-width="0.25" transform="translate(698.5 534.5) rotate(-59) scale(1 1.06)" >121</text>
<polygon points="557.2,542.8 589.3,542.8 589.3,554 587,556.6 559.5,556.6 557.2,554" fill="#e6e7e9" stroke="#222222" stroke-width="1.1" stroke-linejoin="miter" />
<line x1="557.2" y1="550.5" x2="589.3" y2="550.5" stroke="#222222" stroke-width="1" />
<line x1="544" y1="542.8" x2="589.3" y2="542.8" stroke="#222222" stroke-width="1.5" />
<line x1="589.3" y1="543.3" x2="602.6" y2="551" stroke="#222222" stroke-width="0.9" />
<polygon points="590.4,555.5 602.6,550.5 617.6,576 606.5,582.1" fill="#e6e7e9" stroke="#222222" stroke-width="1.1" stroke-linejoin="miter" />
<line x1="597.1" y1="555" x2="611" y2="579.3" stroke="#222222" stroke-width="0.9" />
<line x1="602.6" y1="550.5" x2="617.6" y2="576" stroke="#222222" stroke-width="1.8" />
<path d="M547.8,544.4 A50.2,50.2 0 0 0 622.6,585.4" fill="none" stroke="#222222" stroke-width="1" />
<polygon points="547.8,544.4 549.85,551.09 546.56,551.29" fill="#222222"/>
<polygon points="622.6,585.4 617.48,590.17 615.87,587.3" fill="#222222"/>
<text x="0" y="0" font-size="13" text-anchor="middle" font-weight="normal" fill="#231f20" stroke="#231f20" stroke-width="0.25" transform="translate(577.5 582.5) rotate(22) scale(1 1.06)" >120°</text>
<line x1="583.2" y1="567.7" x2="592.7" y2="552.7" stroke="#222222" stroke-width="1" />
<line x1="617.6" y1="576" x2="625.4" y2="587.1" stroke="#222222" stroke-width="1" />
<polygon points="641.3,422 644.3,415.1 669.8,423.5 691,441.7 688.3,448" fill="#e6e7e9" stroke="#222222" stroke-width="1.2" stroke-linejoin="miter" />
<ellipse cx="665.4" cy="431.3" rx="10.3" ry="5.2" transform="rotate(22 665.4 431.3)" fill="none" stroke="#1c1c1c" stroke-width="1.2"/>
<polygon points="642.5,417 648,418.6 646,425 640.5,423.4" fill="#e6e7e9" stroke="#222222" stroke-width="1" stroke-linejoin="miter" />
<polygon points="682.5,439 688.5,441 686.5,447.5 680.5,445.5" fill="#e6e7e9" stroke="#222222" stroke-width="1" stroke-linejoin="miter" />
<line x1="641.5" y1="420" x2="647" y2="421.6" stroke="#222222" stroke-width="0.8" />
<line x1="681.5" y1="442.3" x2="687.5" y2="444.3" stroke="#222222" stroke-width="0.8" />
<line x1="631.4" y1="417.6" x2="695.7" y2="453.5" stroke="#222222" stroke-width="1.2" />
<line x1="698.7" y1="377.1" x2="683.1" y2="402.5" stroke="#222222" stroke-width="1" />
<line x1="678.7" y1="410.6" x2="672.8" y2="420.2" stroke="#222222" stroke-width="1" />
<line x1="670.6" y1="423.2" x2="652.9" y2="453.5" stroke="#222222" stroke-width="1" />
<line x1="616.7" y1="512.4" x2="607.2" y2="527.6" stroke="#222222" stroke-width="1" />
<line x1="602" y1="535.3" x2="599.5" y2="539.7" stroke="#222222" stroke-width="1" />
</svg></body></html>
